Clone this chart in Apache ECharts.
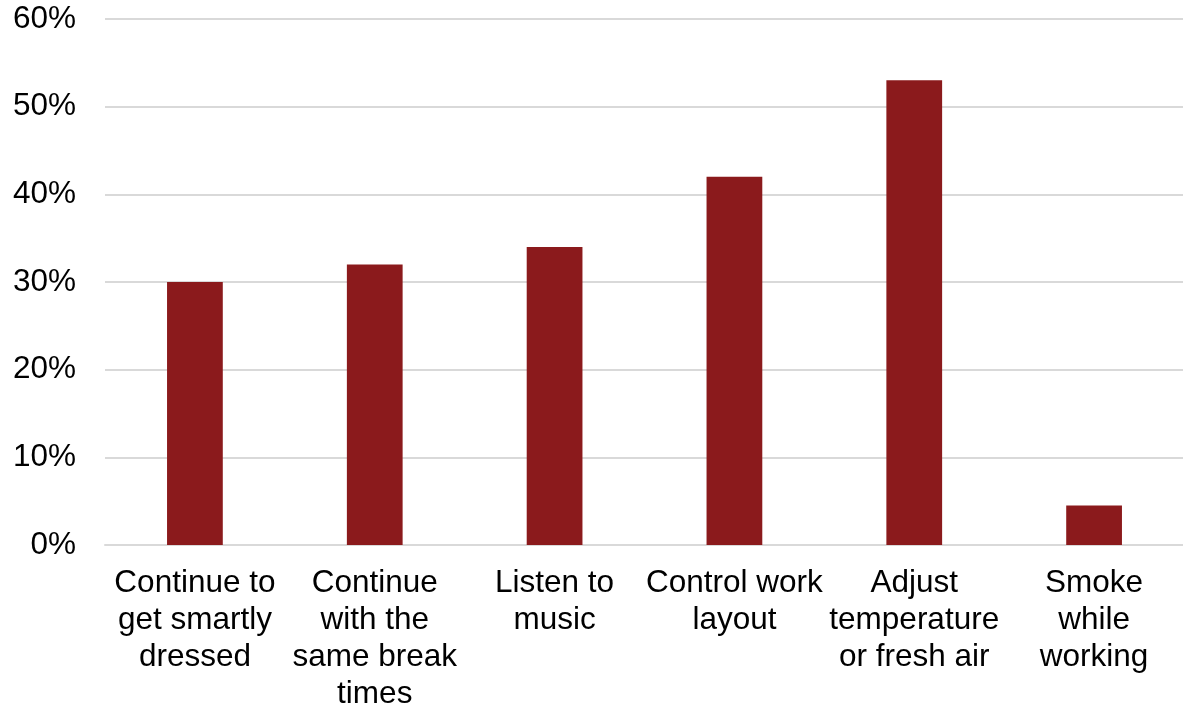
<!DOCTYPE html>
<html>
<head>
<meta charset="utf-8">
<script src="https://cdn.jsdelivr.net/npm/echarts@6/dist/echarts.min.js"></script>
<style>
  html, body { margin: 0; padding: 0; background: #ffffff; }
  #chart { width: 1183px; height: 706px; }
</style>
</head>
<body>
<div id="chart"></div>
<script>
// Workplace freedoms: share of respondents (%)
const categories = [
  'Continue to\nget smartly\ndressed',
  'Continue\nwith the\nsame break\ntimes',
  'Listen to\nmusic',
  'Control work\nlayout',
  'Adjust\ntemperature\nor fresh air',
  'Smoke\nwhile\nworking'
];
const values = [30, 32, 34, 42, 53, 4.5];
const yTicks = { min: 0, max: 60, interval: 10 };

const chart = echarts.init(document.getElementById('chart'), null, { renderer: 'canvas' });
chart.setOption({
  animation: false,
  grid: { left: 105, right: -1, top: 19, bottom: 161, containLabel: false, outerBoundsMode: 'none' },
  xAxis: {
    type: 'category',
    data: categories,
    axisLine: { show: true, lineStyle: { color: '#d9d9d9', width: 2 } },
    axisTick: { show: false },
    axisLabel: {
      interval: 0,
      margin: 20,
      color: '#000000',
      fontFamily: 'Liberation Sans, Arial, sans-serif',
      fontSize: 31.5,
      lineHeight: 37
    }
  },
  yAxis: {
    type: 'value',
    min: yTicks.min,
    max: yTicks.max,
    interval: yTicks.interval,
    axisLine: { show: false },
    axisTick: { show: false },
    splitLine: { lineStyle: { color: '#d9d9d9', width: 2 } },
    axisLabel: {
      margin: 29,
      color: '#000000',
      fontFamily: 'Liberation Sans, Arial, sans-serif',
      fontSize: 31.5,
      formatter: '{value}%'
    }
  },
  series: [{
    type: 'bar',
    data: values,
    barWidth: '31%',
    itemStyle: { color: '#8b1a1c' }
  }]
});
</script>
</body>
</html>
